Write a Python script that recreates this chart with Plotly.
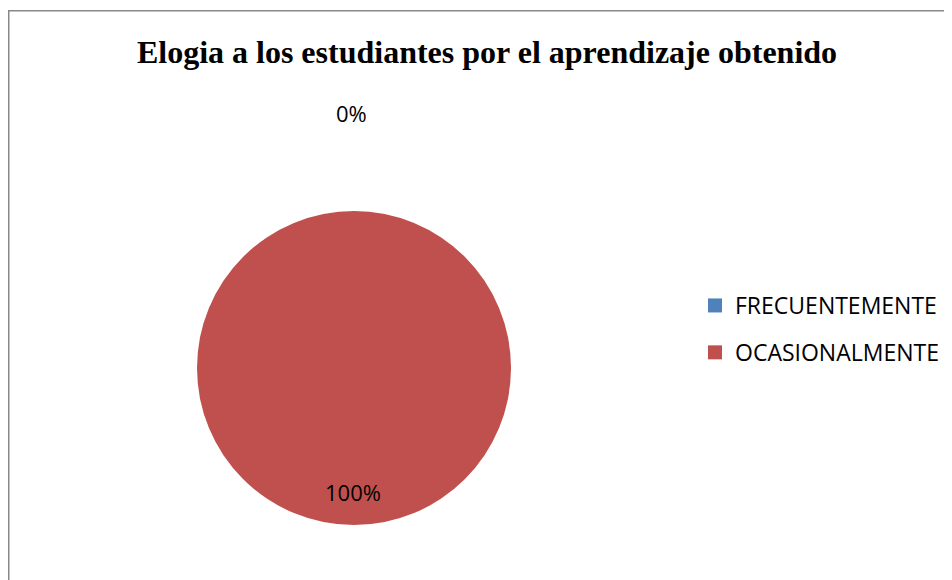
import plotly.graph_objects as go

categories = ["FRECUENTEMENTE", "OCASIONALMENTE"]
values = [0, 100]
colors = ["#4F81BD", "#C0504D"]
title_text = "Elogia a los estudiantes por el aprendizaje obtenido"

W, H = 952, 580
OFF = 8  # page body margin
total = sum(values)
pct = [f"{round(v / total * 100)}%" for v in values]

def px(x):
    return (x - OFF) / W

def py(y):
    return 1 - (y - OFF) / H

cx, cy, r = 354, 368, 157

fig = go.Figure()
fig.add_trace(go.Pie(
    labels=categories, values=values, marker=dict(colors=colors, line=dict(width=0)),
    sort=False, direction="clockwise", rotation=0, textinfo="none", hoverinfo="label+percent",
    domain=dict(x=[px(cx - r), px(cx + r)], y=[py(cy + r), py(cy - r)]),
    showlegend=False,
))
for c, col in zip(categories, colors):
    fig.add_trace(go.Scatter(x=[None], y=[None], mode="markers", name=c, legendgroup=c,
                             marker=dict(symbol="square", size=14, color=col), showlegend=True))

label_pos = [(351, 113), (353, 492)]
for p, (lx, ly) in zip(pct, label_pos):
    fig.add_annotation(x=px(lx), y=py(ly), xref="paper", yref="paper", text=p, showarrow=False,
                       xanchor="center", yanchor="middle",
                       font=dict(family="Open Sans, sans-serif", size=22, color="#000"))

fig.add_shape(type="rect", xref="paper", yref="paper", x0=px(8.75), x1=1.02, y0=-0.02, y1=py(10.75),
              line=dict(color="#888888", width=1.5))

fig.update_layout(
    width=W, height=H, margin=dict(l=0, r=0, t=0, b=0),
    paper_bgcolor="white", plot_bgcolor="white",
    title=dict(text=f"<b>{title_text}</b>", x=px(487), xanchor="center", y=py(52), yanchor="middle",
               font=dict(family="Liberation Serif, Times New Roman, serif", size=32, color="#000")),
    xaxis=dict(visible=False), yaxis=dict(visible=False),
    legend=dict(x=px(735 - 40), xanchor="left", y=py(329), yanchor="middle", tracegroupgap=14,
                font=dict(family="Open Sans, sans-serif", size=23, color="#000"),
                itemwidth=30, bgcolor="rgba(0,0,0,0)"),
)
fig.write_html("out.html")
